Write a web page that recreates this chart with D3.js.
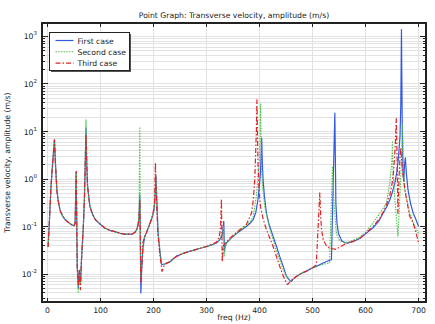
<!DOCTYPE html>
<html>
<head>
<meta charset="utf-8">
<script src="https://cdn.jsdelivr.net/npm/d3@7/dist/d3.min.js"></script>
<style>
  html, body { margin: 0; padding: 0; background: #fff; }
  svg { display: block; font-family: "DejaVu Sans", sans-serif; }
</style>
</head>
<body>
<svg id="chart" width="435" height="324"></svg>
<script>
// Frequency response: [freq (Hz), transverse velocity amplitude (m/s)]
const firstCase = [
  [1, 0.037], [3, 0.1], [6.5, 0.7], [10, 2.5], [13, 6.7], [15, 2.0], [17.5, 0.6], [20, 0.35],
  [23.5, 0.22], [28, 0.17], [33, 0.14], [40, 0.12], [46, 0.108], [50, 0.104], [52, 0.12],
  [54, 1.4], [56, 0.014], [58, 0.005], [60, 0.012], [62, 0.006], [64, 0.02], [67.5, 0.1],
  [69.5, 0.37], [71, 2.0], [72.5, 12], [74, 2.0], [75.5, 0.7], [78, 0.4], [80, 0.26], [85, 0.18],
  [90, 0.14], [100, 0.11], [108, 0.093], [118, 0.083], [127, 0.078], [137, 0.072], [146, 0.069],
  [159, 0.069], [165, 0.076], [168, 0.085], [171, 0.11], [172.6, 0.16], [174, 0.47], [175, 0.05],
  [176, 0.004], [177.5, 0.012], [180, 0.035], [183, 0.06], [186.5, 0.074], [191, 0.1], [196, 0.14],
  [200, 0.2], [202, 0.3], [203.5, 0.6], [204.5, 1.13], [206, 0.4], [208.5, 0.074], [212, 0.03],
  [215, 0.016], [220, 0.016], [225, 0.017], [231, 0.018], [237, 0.021], [243, 0.0235], [255, 0.027],
  [268, 0.03], [285, 0.034], [300, 0.038], [310, 0.041], [318.7, 0.045], [325, 0.053], [330, 0.07],
  [332.5, 0.128], [333.5, 0.03], [335, 0.038], [337.5, 0.045], [345, 0.055], [356, 0.07],
  [365, 0.083], [375, 0.1], [383, 0.12], [388, 0.14], [393, 0.2], [397, 0.37], [400, 0.8],
  [401.7, 1.34], [403.2, 4], [404, 7.3], [405, 2.5], [406.6, 0.97], [409, 0.45], [413, 0.19],
  [418, 0.11], [425.5, 0.062], [432, 0.038], [438, 0.0235], [445, 0.014], [450.8, 0.009],
  [456, 0.0075], [460, 0.007], [463, 0.0078], [470, 0.009], [480, 0.0105], [488.5, 0.0115],
  [500, 0.0135], [510, 0.015], [520, 0.017], [530, 0.019], [535.6, 0.02], [542, 24.5], [544, 0.3],
  [546, 0.12], [549, 0.07], [555, 0.05], [562, 0.045], [570, 0.046], [580, 0.05], [589, 0.056],
  [600, 0.07], [614, 0.094], [625, 0.13], [633, 0.19], [640, 0.26], [646, 0.37], [651, 0.55],
  [655, 0.8], [659, 1.4], [662, 2.8], [665, 8], [666.5, 40], [667.7, 1400], [669, 20],
  [670.5, 1.5], [672, 0.9], [673.5, 2.0], [675, 2.8], [677, 1.3], [680, 0.6], [685, 0.3],
  [690, 0.19], [695, 0.14], [700, 0.1]
];

const secondCase = [
  [1, 0.037], [3, 0.1], [6.5, 0.7], [10, 2.5], [13, 6.7], [15, 2.0], [17.5, 0.6], [20, 0.35],
  [23.5, 0.22], [28, 0.17], [33, 0.14], [40, 0.12], [46, 0.108], [50, 0.104], [52, 0.12],
  [54, 1.4], [56, 0.014], [58, 0.004], [60, 0.012], [62, 0.006], [64, 0.02], [67.5, 0.1],
  [69.5, 0.37], [71, 2.5], [72.5, 17.7], [74, 2.2], [75.5, 0.7], [78, 0.4], [80, 0.26], [85, 0.18],
  [90, 0.14], [100, 0.11], [108, 0.093], [118, 0.083], [127, 0.078], [137, 0.072], [146, 0.069],
  [159, 0.069], [165, 0.076], [168, 0.085], [171, 0.11], [172.6, 0.2], [174, 12.5], [175, 0.1],
  [176, 0.009], [177.5, 0.014], [180, 0.04], [183, 0.06], [186.5, 0.074], [191, 0.1], [196, 0.14],
  [200, 0.2], [202, 0.3], [203.5, 0.7], [204.3, 1.3], [206, 0.35], [208.5, 0.074], [212, 0.03],
  [215, 0.016], [220, 0.016], [225, 0.017], [231, 0.018], [237, 0.021], [243, 0.0235], [255, 0.027],
  [268, 0.03], [285, 0.034], [300, 0.038], [310, 0.041], [318.7, 0.045], [325, 0.053], [330, 0.07],
  [332, 0.1], [333.5, 0.024], [335, 0.036], [337.5, 0.045], [345, 0.056], [356, 0.072],
  [365, 0.086], [375, 0.105], [383, 0.13], [388, 0.16], [394, 0.45], [399, 2.0], [401, 8],
  [402, 38], [403.5, 2.0], [405.5, 0.7], [410, 0.25], [420, 0.085], [432, 0.03], [445, 0.012],
  [452, 0.0085], [458, 0.007], [463, 0.0078], [470, 0.009], [480, 0.0105], [488.5, 0.0115],
  [500, 0.0135], [510, 0.015], [520, 0.016], [532, 0.017], [537.5, 1.84], [540, 0.4], [542, 0.19],
  [545, 0.07], [551, 0.05], [560, 0.046], [570, 0.048], [580, 0.053], [589, 0.06], [600, 0.075],
  [614, 0.12], [627, 0.19], [634, 0.25], [639.5, 0.32], [645.7, 0.83], [648.5, 1.8], [650, 3.05],
  [650.7, 6.3], [652, 1.2], [656, 0.3], [661, 0.063], [665, 0.5], [668, 3], [669.5, 14], [671, 2],
  [674, 0.6], [683, 0.2], [690, 0.12], [700, 0.07]
];

const thirdCase = [
  [1, 0.037], [3, 0.1], [6.5, 0.7], [10, 2.5], [13, 6.7], [15, 2.0], [17.5, 0.6], [20, 0.35],
  [23.5, 0.22], [28, 0.17], [33, 0.14], [40, 0.12], [46, 0.108], [50, 0.104], [52, 0.12],
  [54, 1.45], [56, 0.014], [58, 0.006], [60, 0.012], [62, 0.0047], [64, 0.02], [67.5, 0.1],
  [69.5, 0.37], [71, 1.8], [72.5, 8.5], [74, 1.8], [75.5, 0.7], [78, 0.4], [80, 0.26], [85, 0.18],
  [90, 0.14], [100, 0.11], [108, 0.093], [118, 0.083], [127, 0.078], [137, 0.072], [146, 0.069],
  [159, 0.069], [165, 0.076], [168, 0.085], [171, 0.11], [172.6, 0.16], [174, 0.37], [175, 0.06],
  [176, 0.007], [177.5, 0.013], [180, 0.046], [183, 0.06], [186.5, 0.074], [191, 0.1], [196, 0.14],
  [200, 0.22], [202, 0.35], [203.5, 2.2], [205, 0.5], [208, 0.074], [212, 0.025], [216, 0.0114],
  [220, 0.015], [225, 0.017], [231, 0.018], [237, 0.021], [243, 0.0235], [255, 0.027],
  [268, 0.03], [285, 0.034], [300, 0.038], [310, 0.042], [318.7, 0.047], [324, 0.06], [326.5, 0.1],
  [328, 0.38], [329.5, 0.018], [332, 0.04], [337.5, 0.048], [345, 0.058], [356, 0.075],
  [365, 0.09], [375, 0.11], [384.7, 0.19], [388, 0.35], [391, 0.97], [394, 10.9], [395, 46.5],
  [397, 2.17], [399, 0.6], [401.7, 0.265], [407, 0.14], [413, 0.086], [425.5, 0.038],
  [438, 0.0145], [445, 0.009], [450.8, 0.0065], [452.6, 0.006], [456, 0.0066], [463, 0.0078],
  [470, 0.009], [480, 0.0105], [488.5, 0.0115], [500, 0.0135], [507, 0.0156], [513.6, 0.51],
  [515.5, 0.15], [517, 0.086], [520, 0.053], [526, 0.04], [532, 0.035], [545, 0.033], [551, 0.037],
  [560, 0.042], [575, 0.048], [589, 0.056], [600, 0.072], [614, 0.1], [627, 0.15], [635, 0.22],
  [640, 0.3], [645.7, 0.45], [650, 0.8], [653, 1.5], [656, 5], [658, 18.6], [659.5, 2.5],
  [661, 0.19], [663, 1.0], [665, 3], [666.4, 4.5], [668, 2.5], [670, 1.4], [674, 0.6], [683, 0.166],
  [689.6, 0.12], [695, 0.075], [700, 0.046]
];

const seriesNames = ["First case", "Second case", "Third case"];
const xTicks = [0, 100, 200, 300, 400, 500, 600, 700];
const yDecades = [-2, -1, 0, 1, 2, 3];

const svg = d3.select("#chart");
const margin = { left: 42, right: 426, top: 23, bottom: 302 };
const FONT = 7.7;

const x = d3.scaleLinear().domain([-10.5, 714]).range([margin.left, margin.right]);
const y = d3.scaleLog().domain([Math.pow(10, -2.589), Math.pow(10, 3.284)])
  .range([margin.bottom, margin.top]);

const W = margin.right - margin.left, H = margin.bottom - margin.top;

// tick values for the log axis (1..9 × each decade)
const logTicks = [];
for (let e = -3; e <= 3; e++) {
  for (let m = 1; m <= 9; m++) {
    const v = m * Math.pow(10, e);
    if (v >= y.domain()[0] && v <= y.domain()[1]) logTicks.push({ v, major: m === 1 });
  }
}

// grid
const grid = svg.append("g");
grid.selectAll("line.hg").data(logTicks).join("line")
  .attr("x1", margin.left).attr("x2", margin.right)
  .attr("y1", d => y(d.v)).attr("y2", d => y(d.v))
  .attr("stroke", "#e2e2e2").attr("stroke-width", 1).attr("shape-rendering", "crispEdges");
grid.selectAll("line.vg").data(xTicks).join("line")
  .attr("x1", d => x(d)).attr("x2", d => x(d))
  .attr("y1", margin.top).attr("y2", margin.bottom)
  .attr("stroke", "#e2e2e2").attr("stroke-width", 1).attr("shape-rendering", "crispEdges");

// curves
svg.append("clipPath").attr("id", "plotclip").append("rect")
  .attr("x", margin.left).attr("y", margin.top).attr("width", W).attr("height", H);

const line = d3.line().x(d => x(d[0])).y(d => y(d[1]));
const styles = [
  { data: firstCase, color: "#3358e0", dash: null, width: 1.2 },
  { data: secondCase, color: "#4cc04c", dash: "1.5,1.2", width: 1.1 },
  { data: thirdCase, color: "#e02424", dash: "5,2,1.5,2", width: 1.2 }
];
const plot = svg.append("g").attr("clip-path", "url(#plotclip)");
styles.forEach(s => {
  plot.append("path").datum(s.data).attr("d", line)
    .attr("fill", "none").attr("stroke", s.color).attr("stroke-width", s.width)
    .attr("stroke-dasharray", s.dash).attr("stroke-linejoin", "round");
});

// axes frame
svg.append("rect").attr("x", margin.left).attr("y", margin.top).attr("width", W).attr("height", H)
  .attr("fill", "none").attr("stroke", "#222").attr("stroke-width", 1.2)
  .attr("shape-rendering", "crispEdges");

// inward ticks on all four sides
const ticks = svg.append("g").attr("stroke", "#222").attr("stroke-width", 1)
  .attr("shape-rendering", "crispEdges");
logTicks.forEach(d => {
  const len = d.major ? 6 : 3;
  ticks.append("line").attr("x1", margin.left).attr("x2", margin.left + len)
    .attr("y1", y(d.v)).attr("y2", y(d.v));
  ticks.append("line").attr("x1", margin.right).attr("x2", margin.right - len)
    .attr("y1", y(d.v)).attr("y2", y(d.v));
});
xTicks.forEach(d => {
  ticks.append("line").attr("x1", x(d)).attr("x2", x(d))
    .attr("y1", margin.bottom).attr("y2", margin.bottom - 4);
  ticks.append("line").attr("x1", x(d)).attr("x2", x(d))
    .attr("y1", margin.top).attr("y2", margin.top + 4);
});

// tick labels
svg.append("g").selectAll("text").data(xTicks).join("text")
  .attr("x", d => x(d)).attr("y", margin.bottom + 10.5)
  .attr("text-anchor", "middle").attr("font-size", FONT).attr("fill", "#222")
  .text(d => d);

const yl = svg.append("g").selectAll("text").data(yDecades).join("text")
  .attr("x", 37).attr("y", d => y(Math.pow(10, d)) + 3)
  .attr("text-anchor", "end").attr("font-size", FONT).attr("fill", "#222");
yl.append("tspan").text("10");
yl.append("tspan").attr("dy", -4).attr("font-size", 5.5).text(d => d);

// title and axis labels
svg.append("text").attr("x", (margin.left + margin.right) / 2).attr("y", 17.5)
  .attr("text-anchor", "middle").attr("font-size", FONT).attr("fill", "#222")
  .text("Point Graph: Transverse velocity, amplitude (m/s)");
svg.append("text").attr("x", (margin.left + margin.right) / 2).attr("y", 320)
  .attr("text-anchor", "middle").attr("font-size", FONT).attr("fill", "#222")
  .text("freq (Hz)");
svg.append("text")
  .attr("transform", `translate(10,${(margin.top + margin.bottom) / 2}) rotate(-90)`)
  .attr("text-anchor", "middle").attr("font-size", FONT).attr("fill", "#222")
  .text("Transverse velocity, amplitude (m/s)");

// legend
const lg = svg.append("g").attr("transform", "translate(49.5,32.5)");
lg.append("rect").attr("x", 1.5).attr("y", 1.5).attr("width", 80).attr("height", 38)
  .attr("fill", "#555");
lg.append("rect").attr("x", 0).attr("y", 0).attr("width", 80).attr("height", 38)
  .attr("fill", "#fff").attr("stroke", "#222").attr("stroke-width", 1);
seriesNames.forEach((name, i) => {
  const yy = 8 + i * 11.3;
  lg.append("line").attr("x1", 6).attr("x2", 24).attr("y1", yy).attr("y2", yy)
    .attr("stroke", styles[i].color).attr("stroke-width", styles[i].width)
    .attr("stroke-dasharray", styles[i].dash);
  lg.append("text").attr("x", 28).attr("y", yy + 3).attr("font-size", FONT)
    .attr("fill", "#222").text(name);
});
</script>
</body>
</html>
